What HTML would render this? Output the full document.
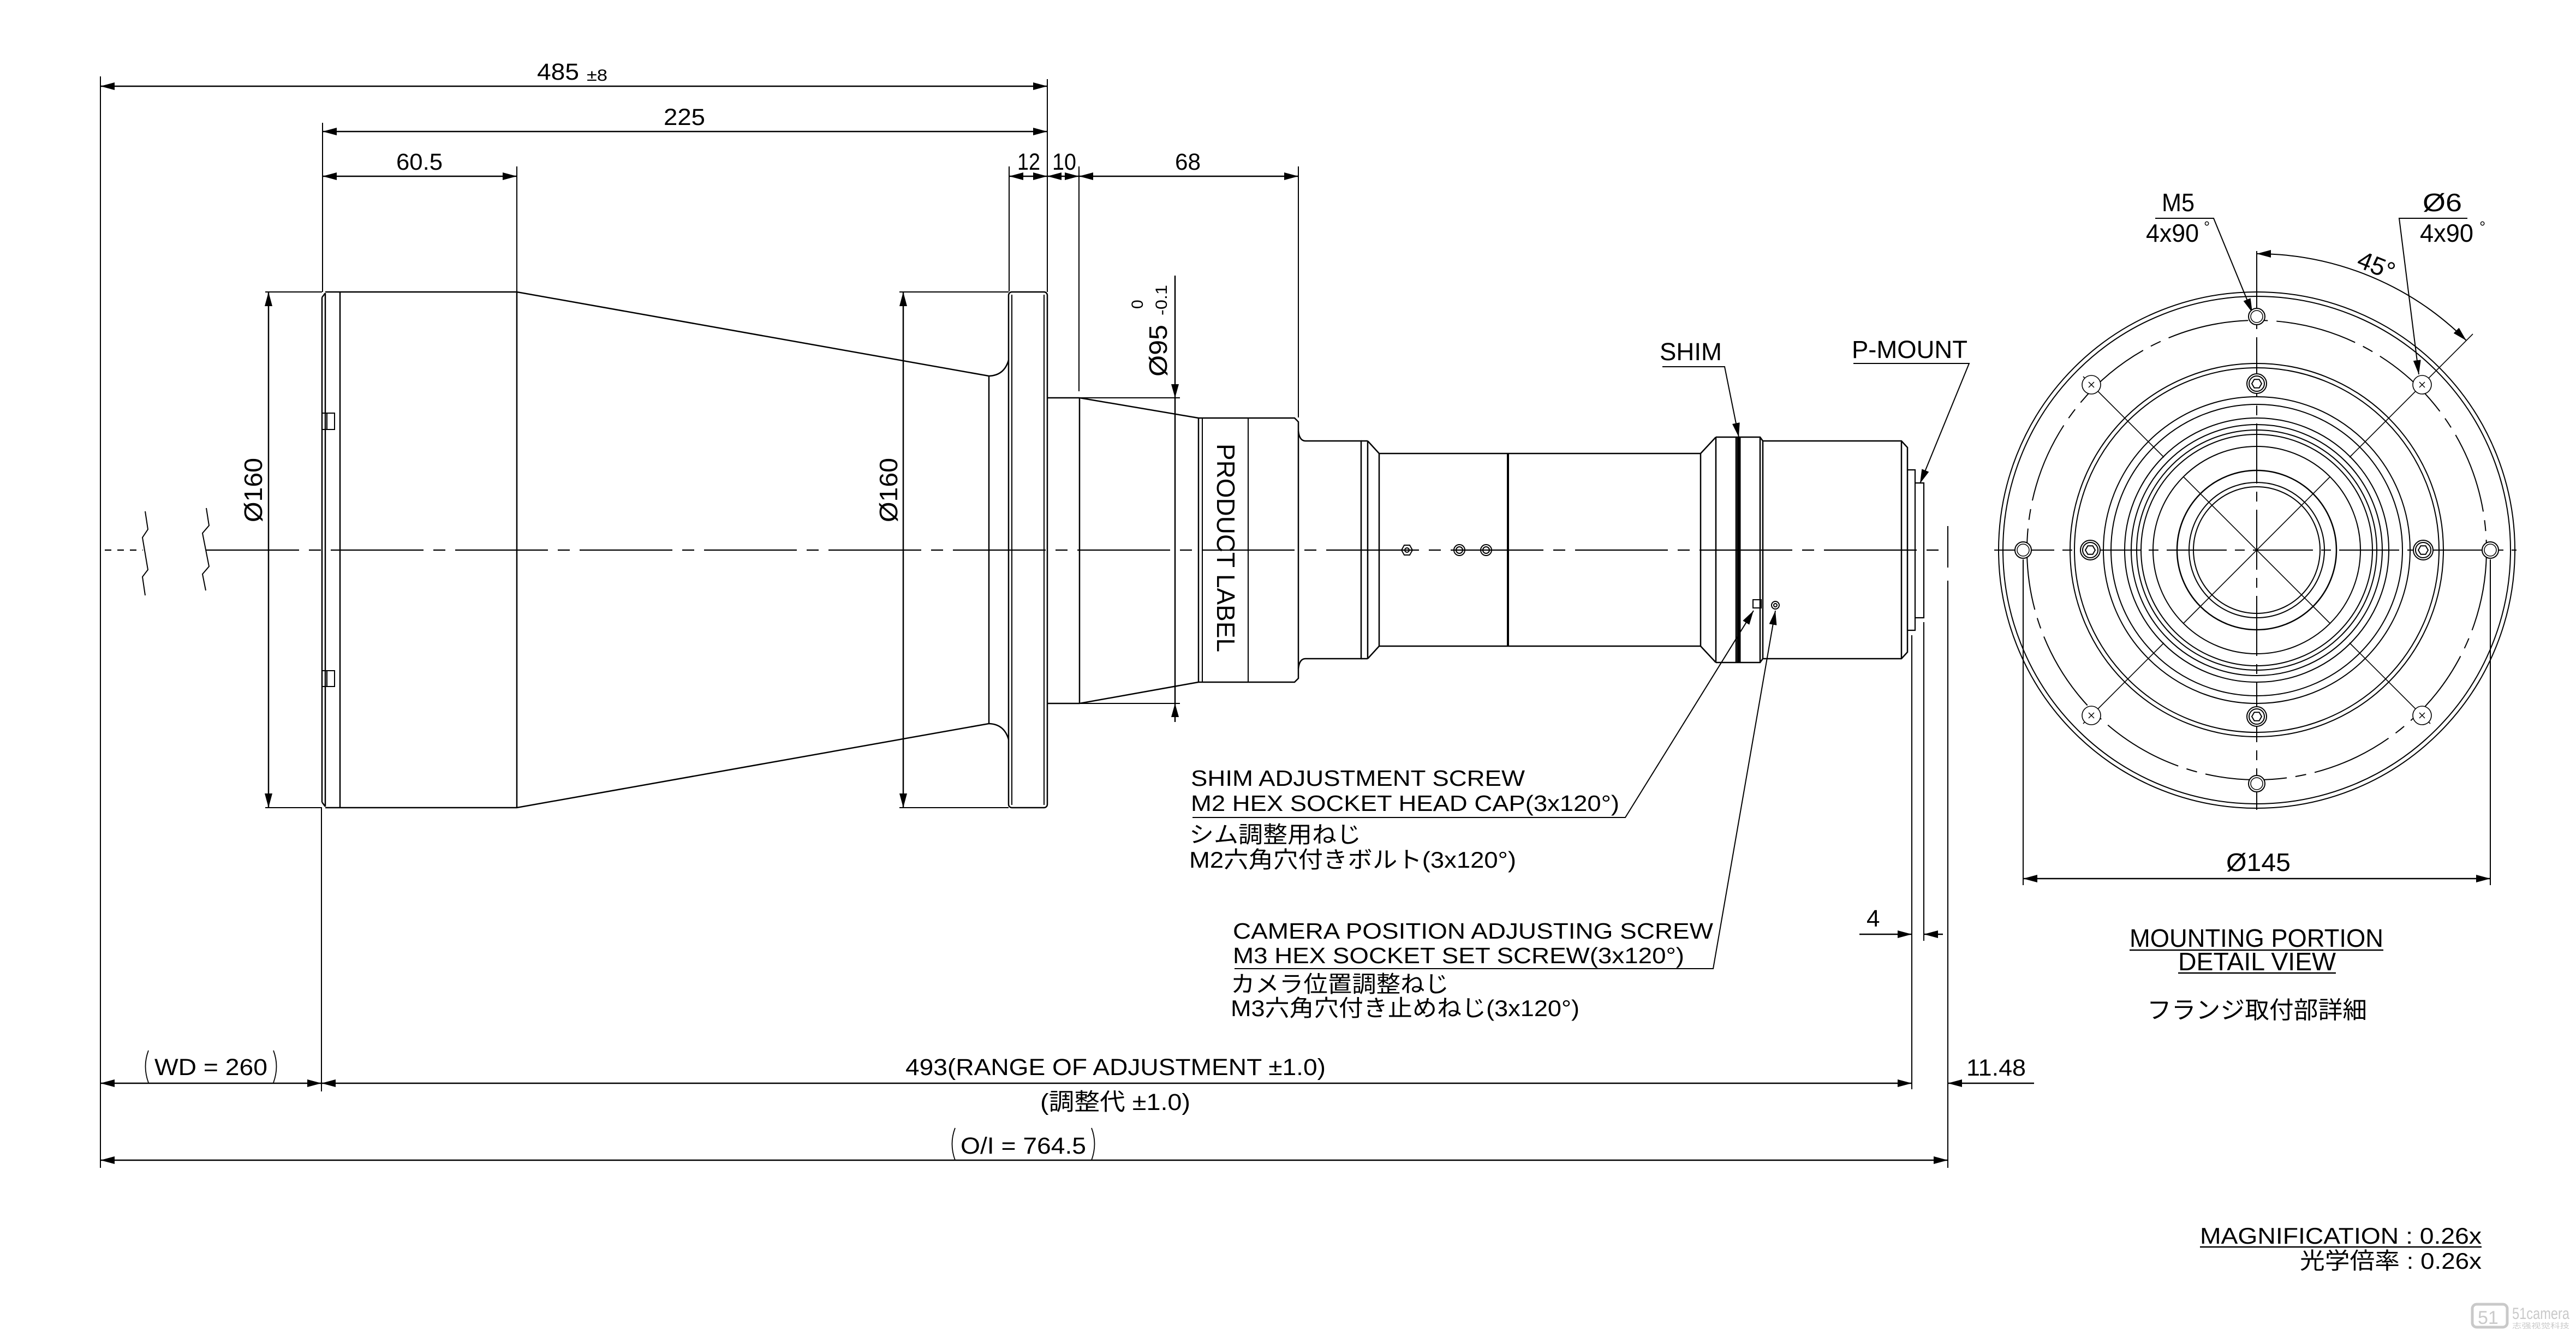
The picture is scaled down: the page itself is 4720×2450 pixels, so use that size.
<!DOCTYPE html>
<html><head><meta charset="utf-8"><title>Lens drawing</title>
<style>
html,body{margin:0;padding:0;background:#fff;}
svg{display:block;}
text{font-family:"Liberation Sans","Noto Sans CJK JP",sans-serif;fill:#000;}
</style></head>
<body>
<svg xmlns="http://www.w3.org/2000/svg" width="4720" height="2450" viewBox="0 0 4720 2450">
<defs>
<marker id="ar" viewBox="0 0 26 14" refX="26" refY="7" markerWidth="26" markerHeight="14" markerUnits="userSpaceOnUse" orient="auto-start-reverse"><path d="M0,0 L26,7 L0,14 z" fill="#000"/></marker>
<g id="hs"><circle r="18" fill="#fff" stroke="#000" stroke-width="2"/><circle r="14" fill="none" stroke="#000" stroke-width="2"/><path d="M9,0 L4.5,7.8 L-4.5,7.8 L-9,0 L-4.5,-7.8 L4.5,-7.8 Z" fill="none" stroke="#000" stroke-width="2"/></g>
<g id="m5"><circle r="15" fill="#fff" stroke="#000" stroke-width="2"/><circle r="11" fill="none" stroke="#000" stroke-width="1.5"/></g>
<g id="d6"><circle r="17" fill="#fff" stroke="#000" stroke-width="1.6"/><path d="M-5,-5 L5,5 M-5,5 L5,-5" stroke="#000" stroke-width="1.5"/></g>
</defs>
<rect width="4720" height="2450" fill="#fff"/>

<!-- ============ MAIN VIEW ============ -->
<g fill="none" stroke="#000" stroke-width="2.5">
<!-- center line -->
<path d="M192,1008 H262" stroke-dasharray="12 11" stroke-width="2.2"/>
<path d="M378,1008 H3570" stroke-dasharray="170 18 22 18" stroke-width="2.2"/>
<!-- break lines -->
<polyline points="266,937 271,970 261,985 271,1044 261,1057 266,1091" stroke-width="2"/>
<polyline points="378,931 383,963 371,977 383,1038 371,1052 377,1082" stroke-width="2"/>

<!-- front ring -->
<path d="M590,545 V1470 M596,537 V1478 M590,545 L596,537 M590,1470 L596,1478 M596,535 H623 M596,1480 H623 M623,535 V1480"/>
<path d="M590,757 H613 V787 H590 M599,757 V787 M590,1229 H613 V1258 H590 M599,1229 V1258" stroke-width="2"/>
<!-- body & cone -->
<path d="M623,535 H947 L1812,689 Q1840,688 1848,660"/>
<path d="M623,1480 H947 L1812,1326 Q1840,1327 1848,1355"/>
<path d="M947,535 V1480 M1812,689 V1326"/>
<!-- flange -->
<rect x="1848" y="535" width="71" height="945" rx="6"/>
<path d="M1854,540 V1475 M1913,540 V1475" stroke-width="2"/>
<!-- tube & cone 2 -->
<path d="M1919,729 H1978 M1919,1289 H1978 M1978,729 V1289 M1978,729 L2196,766 M1978,1289 L2196,1250"/>
<!-- label ring -->
<path d="M2196,766 H2372 L2379,773 V1243 L2372,1250 H2196 Z"/>
<path d="M2203,766 V1250 M2287,766 V1250" stroke-width="2"/>
<!-- step -->
<path d="M2379,790 Q2381,808 2392,808 H2494 V1207 H2392 Q2381,1207 2379,1225"/>
<path d="M2506,808 V1207 M2494,808 H2506 M2494,1207 H2506 M2506,808 L2527,831 M2506,1207 L2527,1184"/>
<!-- long tube -->
<path d="M2527,831 H3116 V1184 H2527 Z"/>
<path d="M2763,831 V1184" stroke-width="4"/>
<path d="M3116,831 L3144,801 M3116,1184 L3144,1214 M3144,801 V1214"/>
<!-- shim rings -->
<path d="M3144,801 H3225 L3230,808 M3144,1214 H3225 L3230,1207 M3225,801 V1214 M3181,801 V1214"/>
<path d="M3186,801 V1214" stroke-width="7"/>
<!-- rear tube -->
<path d="M3230,808 H3484 L3495,820 V1195 L3484,1207 H3230 Z M3484,808 V1207"/>
<!-- p-mount -->
<path d="M3495,861 H3509 V1155 H3495 M3509,885 H3525 V1132 H3509" stroke-width="2.2"/>
<!-- screws on axis -->
<g stroke-width="2">
<path d="M2588,1008 L2583,1017 L2573,1017 L2568,1008 L2573,999 L2583,999 Z"/><circle cx="2578" cy="1008" r="4"/>
<circle cx="2674" cy="1008" r="10"/><circle cx="2674" cy="1008" r="6"/>
<circle cx="2723" cy="1008" r="10"/><circle cx="2723" cy="1008" r="6"/>
<rect x="3212" y="1099" width="15" height="15"/>
<circle cx="3253" cy="1109" r="7"/><circle cx="3253" cy="1109" r="3"/>
</g>
</g>

<!-- extension lines -->
<g stroke="#000" stroke-width="2" fill="none">
<path d="M184,140 V2140"/>
<path d="M1919,145 V535"/>
<path d="M591,225 V535 M589,1480 V2000"/>
<path d="M947,305 V534"/>
<path d="M1849,305 V534"/>
<path d="M1977,305 V717"/>
<path d="M2379,305 V765"/>
<path d="M486,535 H590 M486,1480 H590"/>
<path d="M1648,535 H1848 M1648,1480 H1848"/>
<path d="M1919,729 H2162 M1919,1289 H2162"/>
<path d="M3503,1164 V1996 M3525,1140 V1724 M3569,964 V1040 M3569,1064 V2140"/>
</g>

<!-- dimension lines -->
<g stroke="#000" stroke-width="2.5" fill="none">
<line x1="184" y1="158" x2="1919" y2="158" marker-start="url(#ar)" marker-end="url(#ar)"/>
<line x1="591" y1="241" x2="1919" y2="241" marker-start="url(#ar)" marker-end="url(#ar)"/>
<line x1="591" y1="323" x2="947" y2="323" marker-start="url(#ar)" marker-end="url(#ar)"/>
<line x1="1849" y1="323" x2="1919" y2="323" marker-start="url(#ar)" marker-end="url(#ar)"/>
<line x1="1919" y1="323" x2="1977" y2="323" marker-start="url(#ar)" marker-end="url(#ar)"/>
<line x1="1977" y1="323" x2="2379" y2="323" marker-start="url(#ar)" marker-end="url(#ar)"/>
<line x1="492" y1="535" x2="492" y2="1480" marker-start="url(#ar)" marker-end="url(#ar)"/>
<line x1="1655" y1="535" x2="1655" y2="1480" marker-start="url(#ar)" marker-end="url(#ar)"/>
<line x1="2153" y1="505" x2="2153" y2="1323"/>
<line x1="184" y1="1985" x2="589" y2="1985" marker-start="url(#ar)" marker-end="url(#ar)"/>
<line x1="589" y1="1985" x2="3503" y2="1985" marker-start="url(#ar)" marker-end="url(#ar)"/>
<line x1="3727" y1="1985" x2="3569" y2="1985" marker-end="url(#ar)"/>
<line x1="3407" y1="1712" x2="3503" y2="1712" marker-end="url(#ar)"/>
<line x1="3560" y1="1712" x2="3525" y2="1712" marker-end="url(#ar)"/>
<line x1="184" y1="2126" x2="3569" y2="2126" marker-start="url(#ar)" marker-end="url(#ar)"/>
<!-- leaders -->
<path d="M3046,672 H3160 L3186,801" marker-end="url(#ar)" stroke-width="2"/>
<path d="M3396,666 H3608 L3518,886" marker-end="url(#ar)" stroke-width="2"/>
<path d="M2185,1498 H2978 L3213,1119" marker-end="url(#ar)" stroke-width="2"/>
<path d="M2262,1775 H3139 L3253,1119" marker-end="url(#ar)" stroke-width="2"/>
<!-- parens -->
<path d="M272,1925 Q261,1954 272,1984 M501,1925 Q512,1954 501,1984" stroke-width="1.8"/>
<path d="M1750,2067 Q1739,2096 1750,2126 M2000,2067 Q2011,2096 2000,2126" stroke-width="1.8"/>
</g>
<polygon points="2153,729 2146,704 2160,704" fill="#000"/>
<polygon points="2153,1289 2146,1314 2160,1314" fill="#000"/>

<!-- main view texts -->
<text x="984" y="146" font-size="43" textLength="77" lengthAdjust="spacingAndGlyphs">485</text>
<text x="1075" y="148" font-size="30" textLength="38" lengthAdjust="spacingAndGlyphs">±8</text>
<text x="1216" y="229" font-size="43" textLength="76" lengthAdjust="spacingAndGlyphs">225</text>
<text x="726" y="311" font-size="43" textLength="85" lengthAdjust="spacingAndGlyphs">60.5</text>
<text x="1864" y="311" font-size="43" textLength="42" lengthAdjust="spacingAndGlyphs">12</text>
<text x="1928" y="311" font-size="43" textLength="44" lengthAdjust="spacingAndGlyphs">10</text>
<text x="2153" y="311" font-size="43" textLength="47" lengthAdjust="spacingAndGlyphs">68</text>
<text transform="translate(480,957) rotate(-90)" font-size="46" textLength="118" lengthAdjust="spacingAndGlyphs">Ø160</text>
<text transform="translate(1644,957) rotate(-90)" font-size="46" textLength="118" lengthAdjust="spacingAndGlyphs">Ø160</text>
<text transform="translate(2138,690) rotate(-90)" font-size="46" textLength="95" lengthAdjust="spacingAndGlyphs">Ø95</text>
<text transform="translate(2138,578) rotate(-90)" font-size="30" textLength="56" lengthAdjust="spacingAndGlyphs">-0.1</text>
<text transform="translate(2094,566) rotate(-90)" font-size="30">0</text>
<text transform="translate(2230,813) rotate(90)" font-size="46" textLength="382" lengthAdjust="spacingAndGlyphs">PRODUCT LABEL</text>
<text x="3041" y="660" font-size="45" textLength="114" lengthAdjust="spacingAndGlyphs">SHIM</text>
<text x="3393" y="656" font-size="45" textLength="212" lengthAdjust="spacingAndGlyphs">P-MOUNT</text>

<text x="2182" y="1440" font-size="41" textLength="612" lengthAdjust="spacingAndGlyphs">SHIM ADJUSTMENT SCREW</text>
<text x="2182" y="1486" font-size="41" textLength="785" lengthAdjust="spacingAndGlyphs">M2 HEX SOCKET HEAD CAP(3x120°)</text>
<text x="2179" y="1544" font-size="42" textLength="315" lengthAdjust="spacingAndGlyphs">シム調整用ねじ</text>
<text x="2179" y="1590" font-size="42" textLength="599" lengthAdjust="spacingAndGlyphs">M2六角穴付きボルト(3x120°)</text>
<text x="2259" y="1720" font-size="41" textLength="880" lengthAdjust="spacingAndGlyphs">CAMERA POSITION ADJUSTING SCREW</text>
<text x="2259" y="1765" font-size="41" textLength="827" lengthAdjust="spacingAndGlyphs">M3 HEX SOCKET SET SCREW(3x120°)</text>
<text x="2255" y="1818" font-size="42" textLength="400" lengthAdjust="spacingAndGlyphs">カメラ位置調整ねじ</text>
<text x="2255" y="1862" font-size="42" textLength="639" lengthAdjust="spacingAndGlyphs">M3六角穴付き止めねじ(3x120°)</text>

<text x="3420" y="1698" font-size="44">4</text>
<text x="3603" y="1971" font-size="43" textLength="109" lengthAdjust="spacingAndGlyphs">11.48</text>
<text x="283" y="1970" font-size="43" textLength="207" lengthAdjust="spacingAndGlyphs">WD = 260</text>
<text x="1659" y="1970" font-size="43" textLength="770" lengthAdjust="spacingAndGlyphs">493(RANGE OF ADJUSTMENT ±1.0)</text>
<text x="1906" y="2034" font-size="43" textLength="275" lengthAdjust="spacingAndGlyphs">(調整代 ±1.0)</text>
<text x="1760" y="2114" font-size="43" textLength="230" lengthAdjust="spacingAndGlyphs">O/I = 764.5</text>

<!-- ============ FLANGE DETAIL VIEW ============ -->
<g fill="none" stroke="#000" stroke-width="2">
<circle cx="4135" cy="1008" r="473"/>
<circle cx="4135" cy="1008" r="465"/>
<circle cx="4135" cy="1008" r="421" stroke-dasharray="150 16 20 16"/>
<circle cx="4135" cy="1008" r="342"/>
<circle cx="4135" cy="1008" r="334"/>
<circle cx="4135" cy="1008" r="281"/>
<circle cx="4135" cy="1008" r="267"/>
<circle cx="4135" cy="1008" r="242"/>
<circle cx="4135" cy="1008" r="230"/>
<circle cx="4135" cy="1008" r="220"/>
<circle cx="4135" cy="1008" r="212"/>
<circle cx="4135" cy="1008" r="190"/>
<circle cx="4135" cy="1008" r="146" stroke-width="2.5"/>
<circle cx="4135" cy="1008" r="124"/>
<circle cx="4135" cy="1008" r="116"/>
<!-- center lines -->
<path d="M3654,1008 H4611" stroke-dasharray="110 15 18 15"/>
<path d="M4135,460 V1484" stroke-dasharray="110 15 18 15"/>
<!-- diagonals -->
<path d="M3817,690 L3965,838 M4305,838 L4531,612 M3817,1326 L3965,1178 M4453,1326 L4305,1178 M4001,874 L4269,1142 M4269,874 L4001,1142" stroke-width="1.6"/>
<!-- phi145 ext -->
<path d="M3707,1025 V1622 M4563,1025 V1622"/>
<line x1="3707" y1="1610" x2="4563" y2="1610" stroke-width="2.5" marker-start="url(#ar)" marker-end="url(#ar)"/>
<!-- 45 deg arc -->
<path d="M4135,465 A543,543 0 0 1 4519,624" marker-start="url(#ar)" marker-end="url(#ar)"/>
<!-- leaders -->
<path d="M3949,400 H4056 L4127,573" marker-end="url(#ar)"/>
<path d="M4521,400 H4396 L4432,686" marker-end="url(#ar)"/>
<!-- underlines -->
<path d="M3902,1741 H4367 M3991,1783 H4280 M4031,2285 H4547" stroke-width="2.5"/>
</g>
<use href="#m5" x="4563" y="1008"/>
<use href="#m5" x="3707" y="1008"/>
<use href="#m5" x="4135" y="580"/>
<use href="#m5" x="4135" y="1436"/>
<use href="#d6" x="4438" y="705"/>
<use href="#d6" x="3832" y="705"/>
<use href="#d6" x="3832" y="1311"/>
<use href="#d6" x="4438" y="1311"/>
<use href="#hs" x="4440" y="1008"/>
<use href="#hs" x="3830" y="1008"/>
<use href="#hs" x="4135" y="703"/>
<use href="#hs" x="4135" y="1313"/>

<text x="3961" y="387" font-size="46" textLength="60" lengthAdjust="spacingAndGlyphs">M5</text>
<text x="3932" y="443" font-size="46" textLength="97" lengthAdjust="spacingAndGlyphs">4x90</text>
<text x="4038" y="425" font-size="28">°</text>
<text x="4439" y="387" font-size="46" textLength="72" lengthAdjust="spacingAndGlyphs">Ø6</text>
<text x="4434" y="443" font-size="46" textLength="98" lengthAdjust="spacingAndGlyphs">4x90</text>
<text x="4543" y="425" font-size="28">°</text>
<text transform="translate(4316,488) rotate(22)" font-size="46">45°</text>
<text x="4079" y="1596" font-size="46" textLength="118" lengthAdjust="spacingAndGlyphs">Ø145</text>
<text x="3902" y="1735" font-size="46" textLength="465" lengthAdjust="spacingAndGlyphs">MOUNTING PORTION</text>
<text x="3991" y="1778" font-size="46" textLength="289" lengthAdjust="spacingAndGlyphs">DETAIL VIEW</text>
<text x="3934" y="1866" font-size="44" textLength="403" lengthAdjust="spacingAndGlyphs">フランジ取付部詳細</text>

<text x="4031" y="2279" font-size="42" textLength="516" lengthAdjust="spacingAndGlyphs">MAGNIFICATION : 0.26x</text>
<text x="4214" y="2325" font-size="42" textLength="333" lengthAdjust="spacingAndGlyphs">光学倍率 : 0.26x</text>

<!-- watermark -->
<g opacity="0.45">
<rect x="4530" y="2390" width="64" height="42" rx="8" fill="none" stroke="#888" stroke-width="5"/>
<text x="4540" y="2426" font-size="34" fill="#888" style="fill:#888">51</text>
<text x="4603" y="2417" font-size="30" textLength="105" lengthAdjust="spacingAndGlyphs" style="fill:#888">51camera</text>
<text x="4603" y="2434" font-size="13" textLength="105" lengthAdjust="spacingAndGlyphs" style="fill:#888">志强视觉科技</text>
</g>
</svg>
</body></html>
